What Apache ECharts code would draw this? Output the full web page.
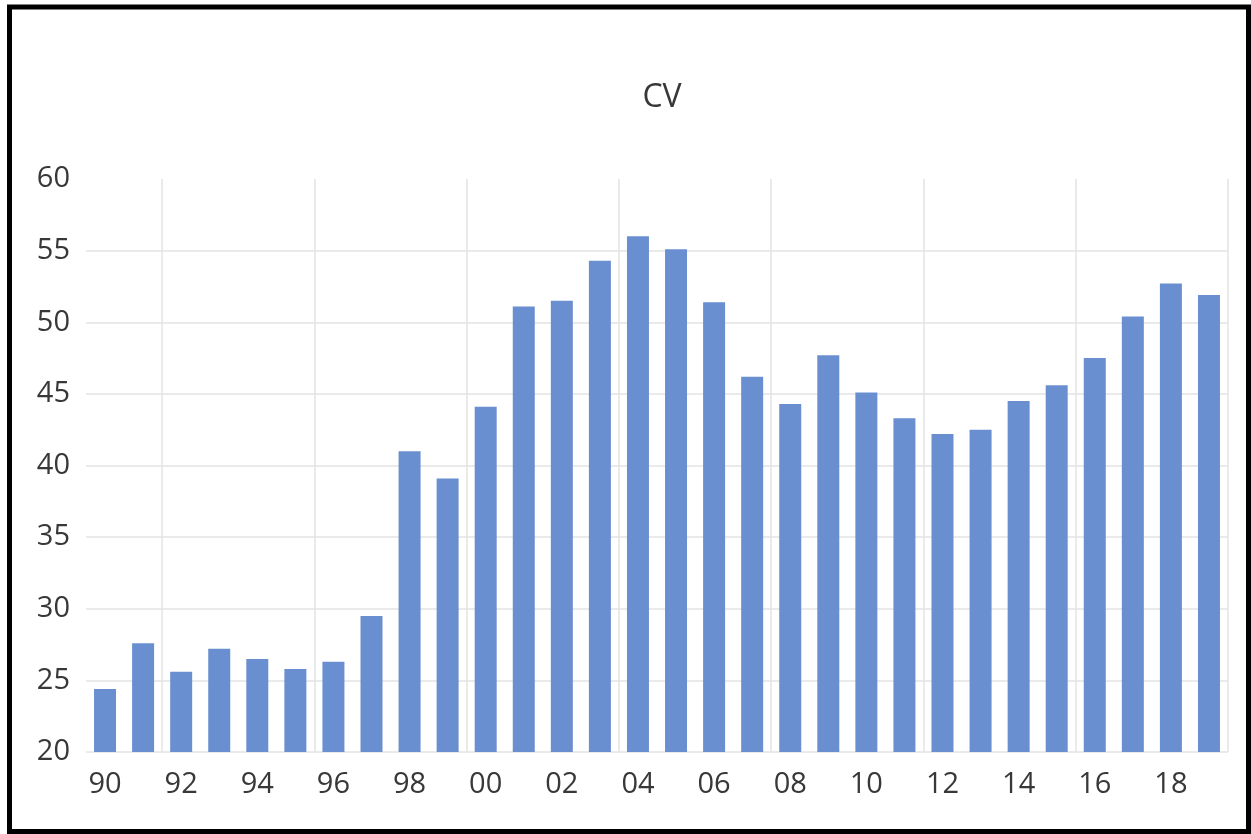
<!DOCTYPE html>
<html>
<head>
<meta charset="utf-8">
<script src="https://cdn.jsdelivr.net/npm/echarts@6/dist/echarts.min.js"></script>
<style>
  html, body { margin: 0; padding: 0; background: #ffffff; }
  #chart { width: 1251px; height: 834px; }
</style>
</head>
<body>
<div id="chart"></div>
<script>
// Years 1990–2019, shown as two-digit labels
const years = ['90','91','92','93','94','95','96','97','98','99',
               '00','01','02','03','04','05','06','07','08','09',
               '10','11','12','13','14','15','16','17','18','19'];

// Coefficient of variation per year
const cvValues = [24.4, 27.6, 25.6, 27.2, 26.5, 25.8, 26.3, 29.5, 41.0, 39.1,
                  44.1, 51.1, 51.5, 54.3, 56.0, 55.1, 51.4, 46.2, 44.3, 47.7,
                  45.1, 43.3, 42.2, 42.5, 44.5, 45.6, 47.5, 50.4, 52.7, 51.9];

const titleText = 'CV';
const textColor = '#383838';
const gridColor = '#e3e3e3';

const chart = echarts.init(document.getElementById('chart'), null, { renderer: 'canvas' });

chart.setOption({
  backgroundColor: '#ffffff',
  animation: false,
  title: {
    text: titleText,
    left: 657,
    top: 77,
    textAlign: 'center',
    textStyle: {
      fontFamily: 'Open Sans',
      fontSize: 32,
      fontWeight: 'normal',
      color: textColor
    }
  },
  grid: {
    left: 86,
    right: 23,
    top: 179,
    bottom: 82,
    containLabel: false
  },
  xAxis: {
    type: 'category',
    data: years,
    boundaryGap: true,
    axisLine: { show: false },
    axisTick: { show: false },
    axisLabel: {
      interval: 1,
      margin: 18,
      fontFamily: 'Open Sans',
      fontSize: 29,
      color: textColor
    },
    splitLine: {
      show: true,
      // vertical lines at every fourth category boundary (91|92, 95|96, ...)
      interval: function (index) { return index % 4 === 2; },
      lineStyle: { color: gridColor, width: 1.5 }
    }
  },
  yAxis: {
    type: 'value',
    min: 20,
    max: 60,
    interval: 5,
    axisLine: { show: false },
    axisTick: { show: false },
    axisLabel: {
      margin: 16,
      fontFamily: 'Open Sans',
      fontSize: 29,
      color: textColor
    },
    splitLine: {
      show: true,
      // no rule along the top of the plot (value 60)
      lineStyle: {
        color: [gridColor, gridColor, gridColor, gridColor, gridColor,
                gridColor, gridColor, gridColor, 'rgba(0,0,0,0)'],
        width: 1.5
      }
    }
  },
  series: [{
    type: 'bar',
    data: cvValues,
    barWidth: 22,
    itemStyle: { color: '#6a8fd0' }
  }],
  graphic: [{
    // heavy black frame around the whole figure
    type: 'rect',
    shape: { x: 9.5, y: 7, width: 1239, height: 824.5 },
    style: { fill: 'none', stroke: '#000000', lineWidth: 5 },
    z: 100
  }]
});
</script>
</body>
</html>
